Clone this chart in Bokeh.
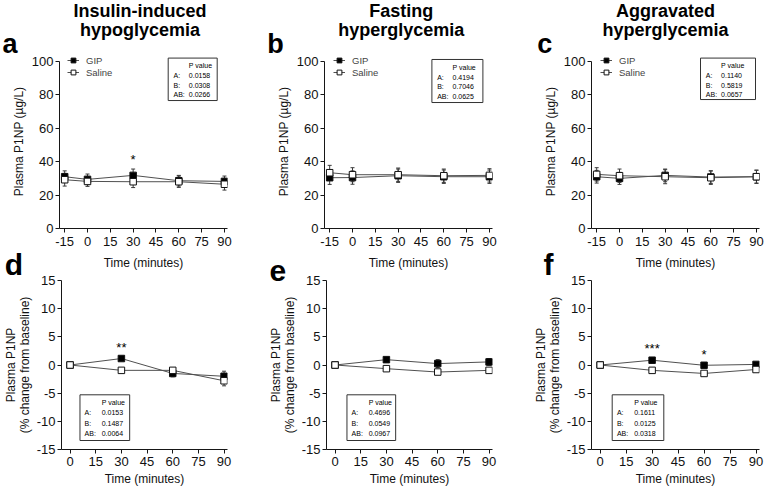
from bokeh.plotting import figure
from bokeh.layouts import column, row
from bokeh.models import (Range1d, FixedTicker, Label, BoxAnnotation, Whisker,
                          ColumnDataSource, Legend, LegendItem, TeeHead)
from bokeh.embed import file_html
from bokeh.resources import INLINE

FONT = "Liberation Sans"

# ---------------- data ----------------
time_abs = [-15, 0, 30, 60, 90]
time_pct = [0, 30, 60, 90]
xticks_abs = [-15, 0, 15, 30, 45, 60, 75, 90]
xticks_pct = [0, 15, 30, 45, 60, 75, 90]
yticks_abs = [0, 20, 40, 60, 80, 100]
yticks_pct = [-15, -10, -5, 0, 5, 10, 15]

titles = [["Insulin-induced", "hypoglycemia"],
          ["Fasting", "hyperglycemia"],
          ["Aggravated", "hyperglycemia"]]
letters_top = ["a", "b", "c"]
letters_bot = ["d", "e", "f"]
series_names = ["GIP", "Saline"]

# absolute plasma P1NP (ug/L), mean and SEM
gip_abs_a = [31.0, 29.4, 31.8, 28.6, 28.2]
sal_abs_a = [29.2, 28.2, 28.0, 28.0, 26.5]
gip_sem_a = [3.5, 3.2, 3.8, 3.2, 3.2]
sal_sem_a = [3.8, 3.0, 3.5, 3.4, 3.5]

gip_abs_b = [30.4, 30.5, 31.6, 31.0, 31.0]
sal_abs_b = [33.4, 32.2, 32.2, 31.6, 31.8]
gip_sem_b = [4.0, 4.0, 4.0, 4.0, 4.0]
sal_sem_b = [4.4, 4.2, 4.0, 4.0, 4.0]

gip_abs_c = [31.0, 30.0, 31.8, 30.8, 31.0]
sal_abs_c = [32.4, 31.6, 31.0, 30.4, 31.0]
gip_sem_c = [3.8, 3.6, 3.8, 3.8, 3.8]
sal_sem_c = [4.0, 4.0, 4.2, 4.0, 4.0]

# % change from baseline, mean and SEM
gip_pct_d = [0.0, 1.15, -1.5, -2.0]
sal_pct_d = [0.0, -0.95, -0.95, -2.8]
gip_psem_d = [0.0, 0.35, 0.6, 0.9]
sal_psem_d = [0.0, 0.4, 0.5, 0.9]

gip_pct_e = [0.0, 0.95, 0.25, 0.55]
sal_pct_e = [0.0, -0.65, -1.25, -0.95]
gip_psem_e = [0.0, 0.4, 0.7, 0.6]
sal_psem_e = [0.0, 0.35, 0.4, 0.4]

gip_pct_f = [0.0, 0.85, -0.05, 0.1]
sal_pct_f = [0.0, -0.95, -1.5, -0.8]
gip_psem_f = [0.0, 0.35, 0.35, 0.35]
sal_psem_f = [0.0, 0.35, 0.4, 0.35]

pval_labels = ["A:", "B:", "AB:"]
pvals_a = ["0.0158", "0.0308", "0.0266"]
pvals_b = ["0.4194", "0.7046", "0.0625"]
pvals_c = ["0.1140", "0.5819", "0.0657"]
pvals_d = ["0.0153", "0.1487", "0.0064"]
pvals_e = ["0.4696", "0.0549", "0.0967"]
pvals_f = ["0.1611", "0.0125", "0.0318"]

stars_a = [(30, "*")]
stars_b = []
stars_c = []
stars_d = [(30, "**")]
stars_e = []
stars_f = [(30, "***"), (60, "*")]

# ---------------- layout ----------------
FW = 168                       # frame width (px)
HEAD_H = 66                    # header strip height
HEAD_OVER = 12                 # top plots slide 12px under the header strip
TOP_PPU = 1.68                 # px per ug/L
TOP_FH = 175                   # frame height (top row, includes 7px above y=100)
TOP_BB = 43                    # bottom border (top row)
BOT_FH = 169                   # frame height (bottom row)
BOT_TB = 38                    # top border (bottom row, holds panel letter)
BOT_BB = 39
OVERLAP = 30                   # bottom row slides under the top row's x-axis title
XR_ABS = (-18.4, 92.0)
XR_PCT = (-5.0, 92.0)
YR_ABS = (0.0, TOP_FH / TOP_PPU)
YR_PCT = (-15.0, 15.0)
MID = 0.3465                   # text middle above baseline, in em

cols = [
    dict(width=265, left=59, right=38, title_x=139.5, let_x=2.0, let_bot=-56.8, leg_x=8,
         box_top=(108.7, -3.4, 49, 42.7), box_bot=(18.7, 114.3, 50.3, 45.7)),
    dict(width=265, left=59, right=38, title_x=135.8, let_x=1.7, let_bot=-57.0, leg_x=9,
         box_top=(107.4, -2.0, 51, 43.3), box_bot=(20.7, 114.3, 49.3, 45.7)),
    dict(width=234, left=61, right=5, title_x=135.0, let_x=6.7, let_bot=-48.0, leg_x=9,
         box_top=(109.0, -3.4, 55, 41.7), box_bot=(20.7, 114.3, 51.6, 45.7)),
]

INK = "#161616"
LINE = "#505050"


def style(p, xticks, yticks):
    p.xgrid.visible = False
    p.ygrid.visible = False
    p.outline_line_color = None
    p.background_fill_color = "white"
    p.border_fill_color = None
    p.xaxis.ticker = FixedTicker(ticks=xticks)
    p.yaxis.ticker = FixedTicker(ticks=yticks)
    for ax in (p.xaxis[0], p.yaxis[0]):
        ax.axis_line_color = INK
        ax.axis_line_width = 1
        ax.major_tick_line_color = INK
        ax.major_tick_out = 4
        ax.major_tick_in = 0
        ax.minor_tick_line_color = None
        ax.major_label_text_font = FONT
        ax.major_label_text_font_size = "13px"
        ax.major_label_text_color = "#111111"
        ax.axis_label_text_font = FONT
        ax.axis_label_text_font_size = "12px"
        ax.axis_label_text_font_style = "normal"
        ax.axis_label_text_color = "#111111"
        ax.axis_label_text_line_height = 1.0
    p.xaxis.major_label_standoff = 4
    p.yaxis.major_label_standoff = 2
    p.xaxis.major_label_overrides = {t: str(t) for t in xticks}
    p.yaxis.major_label_overrides = {t: str(t) for t in yticks}


def series(p, t, v, e, fill):
    src = ColumnDataSource(dict(t=t, v=v,
                                lo=[a - b for a, b in zip(v, e)],
                                hi=[a + b for a, b in zip(v, e)]))
    p.add_layout(Whisker(source=src, base="t", upper="hi", lower="lo",
                         line_color="#3a3a3a", line_width=1,
                         upper_head=TeeHead(size=4, line_color="#3a3a3a", line_width=1),
                         lower_head=TeeHead(size=4, line_color="#3a3a3a", line_width=1)))
    ln = p.line("t", "v", source=src, line_color=LINE, line_width=1)
    sc = p.scatter("t", "v", source=src, marker="square", size=6.5,
                   fill_color=fill, line_color="#111111", line_width=1)
    return ln, sc


def lbl(p, x, y, text, size, bold=False, align="left"):
    p.add_layout(Label(x=x, y=y, text=text,
                       text_font=FONT, text_font_size=size,
                       text_font_style="bold" if bold else "normal",
                       text_color="#000000", text_align=align, text_baseline="middle"))


def pbox(p, X, Y, box, vals, rows, lab_dx, val_dx):
    L, T, W, H = box
    p.add_layout(BoxAnnotation(left=X(L), right=X(L + W), top=Y(T), bottom=Y(T + H),
                               fill_color=None, fill_alpha=0, line_color="#333333",
                               line_alpha=1, line_width=1))
    lbl(p, X(L + val_dx), Y(T + rows[0]), "P value", "7px")
    for name, v, ry in zip(pval_labels, vals, rows[1:]):
        lbl(p, X(L + lab_dx), Y(T + ry), name, "7px")
        lbl(p, X(L + val_dx), Y(T + ry), v, "7px")


def header(c, title, letter):
    p = figure(width=c["width"], height=HEAD_H, output_backend="svg", toolbar_location=None,
               x_range=Range1d(0, c["width"]), y_range=Range1d(0, HEAD_H),
               x_axis_type=None, y_axis_type=None,
               min_border_left=0, min_border_right=0, min_border_top=0, min_border_bottom=0)
    p.outline_line_color = None
    p.xgrid.visible = False
    p.ygrid.visible = False
    p.background_fill_color = "white"
    p.border_fill_color = "white"

    def base(px_from_top, fs):        # baseline (px from top) -> label y (middle)
        return HEAD_H - (px_from_top - MID * fs)

    lbl(p, c["title_x"], base(17.0, 18), title[0], "18px", bold=True, align="center")
    lbl(p, c["title_x"], base(35.3, 18), title[1], "18px", bold=True, align="center")
    lbl(p, c["let_x"], base(53.3, 27), letter, "27px", bold=True)
    return p


def panel_top(c, gip, sal, gsem, ssem, pv, stars):
    p = figure(width=c["width"], height=TOP_FH + TOP_BB, output_backend="svg",
               toolbar_location=None,
               x_range=Range1d(*XR_ABS), y_range=Range1d(*YR_ABS),
               min_border_left=c["left"], min_border_right=c["right"],
               min_border_top=0, min_border_bottom=TOP_BB)
    style(p, xticks_abs, yticks_abs)
    p.yaxis.bounds = (0, 100)
    p.xaxis.axis_label = "Time (minutes)"
    p.yaxis.axis_label = "Plasma P1NP (µg/L)"
    p.xaxis.axis_label_standoff = 7
    p.yaxis.axis_label_standoff = 3
    l1, s1 = series(p, time_abs, gip, gsem, "#000000")
    l2, s2 = series(p, time_abs, sal, ssem, "#ffffff")
    y100 = 100 * TOP_PPU  # px of the 100 line above the frame bottom
    leg = Legend(items=[LegendItem(label=series_names[0], renderers=[l1, s1]),
                        LegendItem(label=series_names[1], renderers=[l2, s2])],
                 location=(c["leg_x"], y100 + 6 - 24), orientation="vertical",
                 glyph_width=12, glyph_height=12, label_height=12, label_standoff=7,
                 spacing=0, padding=0, margin=0, border_line_color=None,
                 background_fill_alpha=0, label_text_font=FONT, label_text_font_size="9.5px")
    p.add_layout(leg)
    ppx = FW / (XR_ABS[1] - XR_ABS[0])
    pbox(p, lambda px: XR_ABS[0] + px / ppx, lambda py: 100 - py / TOP_PPU,
         c["box_top"], pv, [7.7, 17.7, 27.3, 37], 5.3, 20.6)
    for x, s in stars:
        lbl(p, x, 41.1, s, "13px", align="center")
    return p


def panel_bot(c, letter, gip, sal, gsem, ssem, pv, stars):
    p = figure(width=c["width"], height=BOT_TB + BOT_FH + BOT_BB, output_backend="svg",
               toolbar_location=None,
               x_range=Range1d(*XR_PCT), y_range=Range1d(*YR_PCT),
               min_border_left=c["left"], min_border_right=c["right"],
               min_border_top=BOT_TB, min_border_bottom=BOT_BB)
    style(p, xticks_pct, yticks_pct)
    p.title.text = letter
    p.title.align = "left"
    p.title.offset = c["let_bot"]
    p.title.standoff = 0
    p.title.text_font = FONT
    p.title.text_font_size = "30px"
    p.title.text_font_style = "bold"
    p.title.text_color = "#000000"
    p.xaxis.axis_label = "Time (minutes)"
    p.yaxis.axis_label = "Plasma P1NP\n(% change from baseline)"
    p.xaxis.axis_label_standoff = 3
    p.xaxis.major_label_standoff = 3
    p.yaxis.axis_label_standoff = 2
    series(p, time_pct, gip, gsem, "#000000")
    series(p, time_pct, sal, ssem, "#ffffff")
    ppx = FW / (XR_PCT[1] - XR_PCT[0])
    ppy = BOT_FH / (YR_PCT[1] - YR_PCT[0])
    pbox(p, lambda px: XR_PCT[0] + px / ppx, lambda py: YR_PCT[1] - py / ppy,
         c["box_bot"], pv, [7.3, 17.3, 28.3, 39], 4.7, 22)
    for x, s in stars:
        y = {"***": 2.97, "**": 3.09}.get(s, 3.0 if x == 30 else 1.95)
        lbl(p, x, y, s, "13px", align="center")
    return p


heads = [header(cols[i], titles[i], letters_top[i]) for i in range(3)]
pa = panel_top(cols[0], gip_abs_a, sal_abs_a, gip_sem_a, sal_sem_a, pvals_a, stars_a)
pb = panel_top(cols[1], gip_abs_b, sal_abs_b, gip_sem_b, sal_sem_b, pvals_b, stars_b)
pc = panel_top(cols[2], gip_abs_c, sal_abs_c, gip_sem_c, sal_sem_c, pvals_c, stars_c)
pd = panel_bot(cols[0], letters_bot[0], gip_pct_d, sal_pct_d, gip_psem_d, sal_psem_d, pvals_d, stars_d)
pe = panel_bot(cols[1], letters_bot[1], gip_pct_e, sal_pct_e, gip_psem_e, sal_psem_e, pvals_e, stars_e)
pf = panel_bot(cols[2], letters_bot[2], gip_pct_f, sal_pct_f, gip_psem_f, sal_psem_f, pvals_f, stars_f)

layout = column(row(*heads),
                row(pa, pb, pc, margin=(-HEAD_OVER, 0, 0, 0)),
                row(pd, pe, pf, margin=(-OVERLAP, 0, 0, 0)))
open("out.html", "w").write(file_html(layout, INLINE))
